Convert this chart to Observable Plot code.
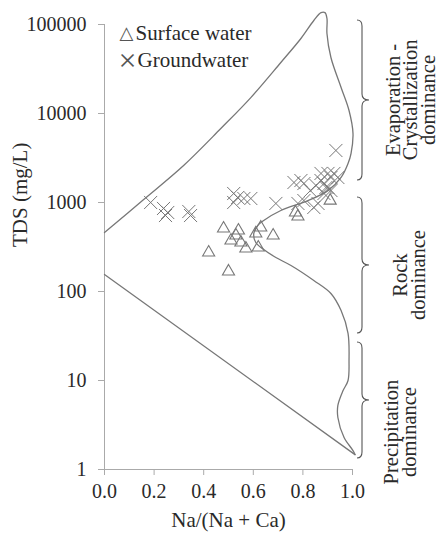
<!DOCTYPE html>
<html><head><meta charset="utf-8">
<script src="https://cdn.jsdelivr.net/npm/d3@7"></script>
<script src="https://cdn.jsdelivr.net/npm/@observablehq/plot@0.6"></script>
<style>body{margin:0;background:#fff}</style>
</head><body><div id="chart"></div>
<script>
// ---- data ----
const surfaceNa  = [0.42,0.50,0.48,0.54,0.51,0.55,0.57,0.61,0.63,0.62,0.68,0.77,0.78,0.91,0.53];
const surfaceTDS = [274,168,510,484,374,355,304,449,524,312,426,772,697,1050,426];

const groundNa  = [0.186,0.238,0.255,0.246,0.34,0.347,0.521,0.537,0.562,0.59,0.521,0.691,0.764,0.792,0.804,0.873,0.885,0.901,0.913,0.925,0.901,0.941,0.804,0.844,0.861,0.885,0.913,0.873,0.78,0.933,0.893,0.853,0.83];
const groundTDS = [1000,857,772,714,792,714,1262,1138,1109,1109,1000,975,1678,1766,1633,1766,1633,1475,1910,2120,2120,1910,1052,879,975,1262,1364,2120,975,3840,1475,1550,1360];

const boundaryNa  = [0,0.158,0.319,0.469,0.590,0.711,0.792,0.844,0.873,0.889,0.897,0.897,0.913,0.954,0.986,1.002,0.994,0.982,0.954,0.901,0.820,0.711,0.642,0.618,0.602,0.610,0.642,0.691,0.752,0.844,0.913,0.954,0.982,0.986,0.982,0.962,0.941,0.941,0.966,1.002,1.010];
const boundaryTDS = [460,1081,2606,6780,15100,37400,69600,111000,136000,136000,117000,79200,42600,19600,10800,5960,3550,2740,1910,1360,1050,813,628,552,449,355,297,241,196,133,95,61,33.8,16.8,10,7.7,5.24,3.84,2.29,1.63,1.47];

const lowerNa  = [0, 1.010];
const lowerTDS = [155, 1.47];

const xTicks = [0, 0.2, 0.4, 0.6, 0.8, 1.0];
const yTicks = [1, 10, 100, 1000, 10000, 100000];

const legendSymbols = ["\u25B3", "\u00D7"];
const legendLabels  = ["Surface water", "Groundwater"];

const zoneNames = [["Evaporation -","Crystallization","dominance"],["Rock","dominance"],["Precipitation","dominance"]];
const zoneLow   = [1770, 33.7, 1.33];
const zoneHigh  = [111000, 1138, 26.7];

const xLabel = "Na/(Na + Ca)";
const yLabel = "TDS (mg/L)";

// ---- tables ----
const surface  = surfaceNa.map((x,i)=>({x, y: surfaceTDS[i]}));
const ground   = groundNa.map((x,i)=>({x, y: groundTDS[i]}));
const boundary = boundaryNa.map((x,i)=>({x, y: boundaryTDS[i]}));
const lower    = lowerNa.map((x,i)=>({x, y: lowerTDS[i]}));

const SERIF = "'Liberation Serif','Times New Roman',serif";
const INK = "#2a2a2a";

function braces(index, scales, values, dimensions) {
  const g = d3.create("svg:g");
  const bx = dimensions.width - dimensions.marginRight + 10;
  const textCx = [bx + 48, bx + 47, bx + 38];
  const textDy = [0, 10, 32];
  zoneLow.forEach((lo, i) => {
    const y0 = scales.y(zoneHigh[i]), y1 = scales.y(lo);
    const ym = (y0 + y1) / 2, x = bx, w = 7, c = 6;
    g.append("path")
      .attr("fill", "none").attr("stroke", "#555").attr("stroke-width", 1.1)
      .attr("d", `M${x-5},${y0} Q${x},${y0} ${x},${y0+c} L${x},${ym-c} Q${x},${ym} ${x+w},${ym} Q${x},${ym} ${x},${ym+c} L${x},${y1-c} Q${x},${y1} ${x-5},${y1}`);
    const lines = zoneNames[i], n = lines.length, lh = 17.5;
    lines.forEach((t, j) => {
      const tx = textCx[i] + (j - (n - 1) / 2) * lh;
      g.append("text")
        .attr("transform", `translate(${tx},${ym + textDy[i]}) rotate(-90)`)
        .attr("text-anchor", "middle").attr("dominant-baseline", "central")
        .attr("font-family", SERIF).attr("font-size", 20.5).attr("fill", INK)
        .text(t);
    });
  });
  return g.node();
}

const chart = Plot.plot({
  width: 442, height: 534,
  marginLeft: 104, marginRight: 90, marginTop: 24, marginBottom: 65,
  style: {fontFamily: SERIF, fontSize: "20px", background: "#fff", color: INK},
  x: {domain: [0, 1]},
  y: {type: "log", domain: [1, 100000]},
  marks: [
    Plot.ruleX([0], {stroke: "#aaa"}),
    Plot.ruleY([1], {stroke: "#aaa"}),
    Plot.axisX({ticks: xTicks, tickFormat: d3.format(".1f"), tickSize: 6, tickPadding: 8, stroke: "#aaa", fill: INK, label: null}),
    Plot.axisY({ticks: yTicks, tickFormat: d3.format("d"), tickSize: 6, tickPadding: 12, stroke: "#aaa", fill: INK, label: null}),
    Plot.line(boundary, {x: "x", y: "y", curve: "catmull-rom", stroke: "#777", strokeWidth: 1.3}),
    Plot.line(lower, {x: "x", y: "y", stroke: "#777", strokeWidth: 1.3}),
    Plot.dot(surface, {x: "x", y: "y", symbol: "triangle", r: 4.5, stroke: "#777", fill: "none", strokeWidth: 1.1}),
    Plot.dot(ground, {x: "x", y: "y", symbol: "times", r: 6, stroke: "#777", strokeWidth: 1}),
    Plot.text([legendSymbols[0]], {frameAnchor: "top-left", dx: 22, dy: 9, text: d => d, textAnchor: "middle", lineAnchor: "middle", fontSize: 18, fill: "#555", fontFamily: "DejaVu Sans"}),
    Plot.text([legendSymbols[1]], {frameAnchor: "top-left", dx: 23, dy: 36, text: d => d, textAnchor: "middle", lineAnchor: "middle", fontSize: 32, fill: "#555", fontFamily: SERIF}),
    Plot.text([legendLabels[0]], {frameAnchor: "top-left", dx: 31, dy: 9, text: d => d, textAnchor: "start", lineAnchor: "middle", fontSize: 21, fill: INK}),
    Plot.text([legendLabels[1]], {frameAnchor: "top-left", dx: 33, dy: 36, text: d => d, textAnchor: "start", lineAnchor: "middle", fontSize: 21, fill: INK}),
    Plot.text([xLabel], {frameAnchor: "bottom", dy: 51, text: d => d, lineAnchor: "middle", fontSize: 21, fill: INK}),
    Plot.text([yLabel], {frameAnchor: "left", dx: -84, rotate: -90, text: d => d, lineAnchor: "middle", fontSize: 21, fill: INK}),
    braces
  ]
});
document.getElementById("chart").append(chart);
</script>
</body></html>
